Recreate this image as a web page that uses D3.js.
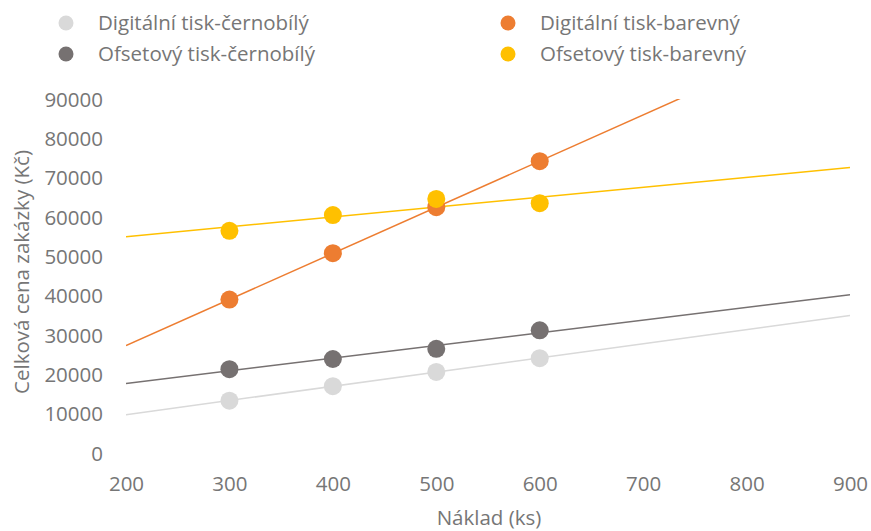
<!DOCTYPE html>
<html><head><meta charset="utf-8">
<script src="https://cdn.jsdelivr.net/npm/d3@7"></script>
<style>body{margin:0;background:#fff}svg{display:block}</style>
</head><body>
<svg id="c" width="871" height="531"></svg>
<script>
const naklad = [300, 400, 500, 600];
const seriesNames = ["Digitální tisk-černobílý", "Ofsetový tisk-černobílý", "Digitální tisk-barevný", "Ofsetový tisk-barevný"];
const seriesColors = ["#d9d9d9", "#767171", "#ed7d31", "#ffc000"];
const digitalBW = [13300, 17000, 20600, 24100];
const offsetBW = [21300, 23900, 26500, 31200];
const digitalColor = [39000, 50800, 62500, 74200];
const offsetColor = [56500, 60500, 64600, 63500];
const xTicks = [200, 300, 400, 500, 600, 700, 800, 900];
const yTicks = [0, 10000, 20000, 30000, 40000, 50000, 60000, 70000, 80000, 90000];
const xTitle = "Náklad (ks)";
const yTitle = "Celková cena zakázky (Kč)";

const allSeries = [digitalBW, offsetBW, digitalColor, offsetColor];
const svg = d3.select("#c");
const font = "'Open Sans', sans-serif";
const fs = 20.5;
const txt = "#767676";
const m = {l:126, r:850, t:99, b:453};
const x = d3.scaleLinear().domain([200, 900]).range([m.l, m.r]);
const y = d3.scaleLinear().domain([0, 90000]).range([m.b, m.t]);

// axes (labels only)
const xa = svg.append("g").attr("transform", `translate(0,${m.b+31})`)
  .call(d3.axisBottom(x).tickValues(xTicks).tickSize(0).tickPadding(0).tickFormat(d3.format("d")));
xa.select(".domain").remove();
xa.selectAll("text").attr("font-family", font).attr("font-size", fs).attr("fill", txt).attr("dy", "0.35em");
const ya = svg.append("g").attr("transform", `translate(${m.l-23},0)`)
  .call(d3.axisLeft(y).tickValues(yTicks).tickSize(0).tickPadding(0).tickFormat(d3.format("d")));
ya.select(".domain").remove();
ya.selectAll("text").attr("font-family", font).attr("font-size", fs).attr("fill", txt).attr("dy","0.35em");

svg.append("text").attr("x", 489).attr("y", 525).attr("text-anchor","middle")
  .attr("font-family", font).attr("font-size", fs).attr("fill", txt).text(xTitle);
svg.append("text").attr("transform", `translate(22,${(m.t+m.b)/2-4}) rotate(-90)`).attr("text-anchor","middle")
  .attr("font-family", font).attr("font-size", fs).attr("fill", txt).attr("dy","0.35em").text(yTitle);

// clip
svg.append("clipPath").attr("id","pc").append("rect").attr("x", m.l).attr("y", m.t).attr("width", m.r-m.l).attr("height", m.b-m.t);

// linear trendlines
function fit(xs, ys){
  const mx = d3.mean(xs), my = d3.mean(ys);
  const s = d3.sum(xs, (v,i)=>(v-mx)*(ys[i]-my)) / d3.sum(xs, v=>(v-mx)*(v-mx));
  return v => my + s*(v-mx);
}
const gl = svg.append("g").attr("clip-path","url(#pc)");
allSeries.forEach((vals, i) => {
  const f = fit(naklad, vals);
  gl.append("line").attr("x1", x(200)).attr("y1", y(f(200))).attr("x2", x(900)).attr("y2", y(f(900)))
    .attr("stroke", seriesColors[i]).attr("stroke-width", 1.5);
});
// points
allSeries.forEach((vals, i) => {
  svg.append("g").selectAll("circle").data(vals).join("circle")
    .attr("cx", (d,j)=>x(naklad[j])).attr("cy", d=>y(d)).attr("r", 9).attr("fill", seriesColors[i]);
});

// legend
const legPos = [[66,23],[66,54],[508,23],[508,54]];
seriesNames.forEach((n,i)=>{
  const g = svg.append("g").attr("transform", `translate(${legPos[i][0]},${legPos[i][1]})`);
  g.append("circle").attr("r", 7.5).attr("fill", seriesColors[i]);
  g.append("text").attr("x", 32).attr("dy","0.35em").attr("font-family", font).attr("font-size", fs)
    .attr("fill", txt).text(n);
});
</script>
</body></html>
